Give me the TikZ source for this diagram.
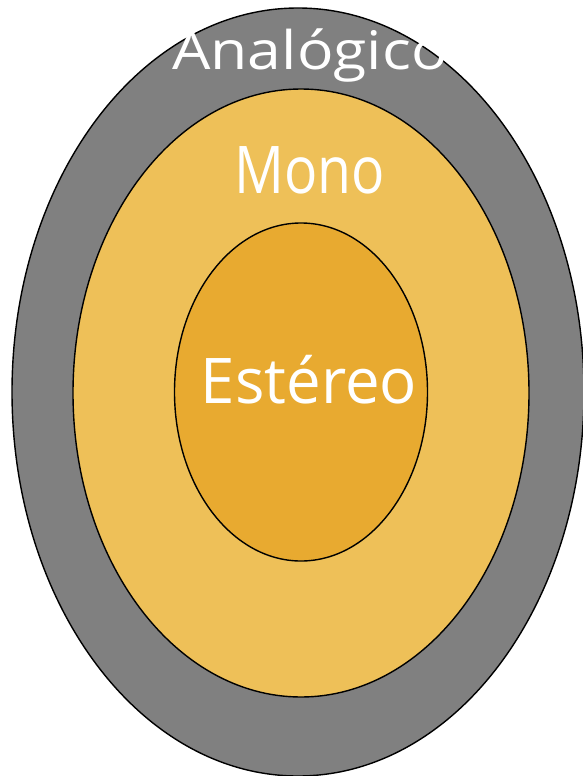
\documentclass[tikz,border=0pt]{standalone}
\usepackage{fontspec}
\setmainfont{Open Sans}
\definecolor{ringgray}{HTML}{808080}
\definecolor{monoyel}{HTML}{EEC058}
\definecolor{stereoor}{HTML}{E8AA30}
\begin{document}
\begin{tikzpicture}[x=1pt,y=-1pt,
  ring/.style={draw=black,line width=1.4pt},
  lbl/.style={text=white,anchor=base,inner sep=0pt}]
\useasboundingbox (0,0) rectangle (583,776);
\clip (0,0) rectangle (583,776);
\fill[white] (0,0) rectangle (583,776);
\draw[ring,fill=ringgray] (298,392) ellipse [x radius=286, y radius=384];
\draw[ring,fill=monoyel] (301,393) ellipse [x radius=228, y radius=304];
\draw[ring,fill=stereoor] (301,392) ellipse [x radius=126.5, y radius=169];
\node[lbl,font=\fontsize{53.2}{60}\selectfont] (analog) at (310,70) {\scalebox{1.14}[1]{Analógico}};
\node[lbl,font=\fontsize{65.8}{72}\selectfont] (mono) at (309.5,193) {\scalebox{0.84}[1]{Mono}};
\node[lbl,font=\fontsize{63}{70}\selectfont] (stereo) at (309,403) {\scalebox{0.98}[1]{Estéreo}};
\end{tikzpicture}
\end{document}
